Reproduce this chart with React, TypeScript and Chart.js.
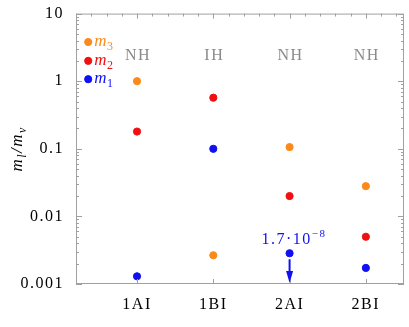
import React, { useEffect, useRef } from "react";
import { Chart, registerables } from "chart.js";

Chart.register(...registerables);

const categories = ["1AI", "1BI", "2AI", "2BI"];
const hierarchy = ["NH", "IH", "NH", "NH"];
const m1 = [0.0013, 0.1, 0.00285, 0.00173];
const m2 = [0.18, 0.57, 0.02, 0.005];
const m3 = [1.0, 0.00266, 0.106, 0.028];
const yTickValues = [0.001, 0.01, 0.1, 1, 10];
const yTickLabels = ["0.001", "0.01", "0.1", "1", "10"];
const legendNames = ["3", "2", "1"];
const legendValues = [3.8, 2.0, 1.07];
const legendX = -0.64;
const annotationCategory = 2;
const annotationBase = "1.7\u00b710";
const annotationExp = "\u22128";

const ORANGE = "#fb8a1a";
const RED = "#f01010";
const BLUE = "#1010f0";
const legendColors = [ORANGE, RED, BLUE];
const FRAME = "#a0a0a0";
const SERIF = "'Liberation Serif', 'Times New Roman', serif";

const decorPlugin = {
  id: "decor",
  beforeDraw(chart: any) {
    chart.ctx.letterSpacing = "1.5px";
  },
  afterDraw(chart: any) {
    const ctx = chart.ctx;
    const { left, right, top, bottom } = chart.chartArea;
    const xs = chart.scales.x;
    const ys = chart.scales.y;
    ctx.save();
    // frame
    ctx.strokeStyle = FRAME;
    ctx.lineWidth = 1;
    ctx.strokeRect(left + 0.5, top + 0.5, right - left - 1, bottom - top - 1);
    // y ticks (left and right, inside)
    ctx.beginPath();
    for (let e = -3; e <= 1; e++) {
      for (let k = 1; k <= 9; k++) {
        const v = k * Math.pow(10, e);
        if (v > 10.0001) continue;
        const py = Math.round(ys.getPixelForValue(v)) + 0.5;
        const len = k === 1 ? 6 : 3;
        ctx.moveTo(left, py);
        ctx.lineTo(left + len, py);
        ctx.moveTo(right, py);
        ctx.lineTo(right - len, py);
      }
    }
    // x ticks bottom
    for (let i = 0; i < categories.length; i++) {
      const px = Math.round(xs.getPixelForValue(i)) + 0.5;
      ctx.moveTo(px, bottom);
      ctx.lineTo(px, bottom - 5);
    }
    // x ticks top
    for (let t = -0.8; t <= 3.5; t += 0.2) {
      const px = Math.round(xs.getPixelForValue(t)) + 0.5;
      const major = Math.abs(t - Math.round(t)) < 0.01;
      ctx.moveTo(px, top);
      ctx.lineTo(px, top + (major ? 5 : 3));
    }
    ctx.stroke();

    // hierarchy labels
    ctx.fillStyle = "#8a8a8a";
    ctx.font = `16px ${SERIF}`;
    ctx.textAlign = "center";
    ctx.textBaseline = "middle";
    hierarchy.forEach((h, i) => {
      ctx.fillText(h, xs.getPixelForValue(i) + 1, top + 42);
    });

    // legend text
    ctx.textAlign = "left";
    ctx.textBaseline = "alphabetic";
    legendNames.forEach((n, i) => {
      const px = xs.getPixelForValue(legendX) + 6;
      const py = ys.getPixelForValue(legendValues[i]) + 4;
      ctx.fillStyle = legendColors[i];
      ctx.font = `italic 17px ${SERIF}`;
      ctx.fillText("m", px, py);
      const w = ctx.measureText("m").width;
      ctx.font = `12px ${SERIF}`;
      ctx.fillText(n, px + w - 1, py + 4);
    });

    // annotation
    const ax = xs.getPixelForValue(annotationCategory);
    const ay = ys.getPixelForValue(m1[annotationCategory]);
    ctx.fillStyle = BLUE;
    ctx.font = `16px ${SERIF}`;
    const wb = ctx.measureText(annotationBase).width;
    const startX = ax - wb / 2 - 3;
    ctx.fillText(annotationBase, startX, ay - 9);
    ctx.font = `11px ${SERIF}`;
    ctx.fillText(annotationExp, startX + wb, ay - 16);

    // arrow
    ctx.strokeStyle = BLUE;
    ctx.lineWidth = 2;
    ctx.beginPath();
    ctx.moveTo(ax, ay + 6);
    ctx.lineTo(ax, bottom - 10);
    ctx.stroke();
    ctx.beginPath();
    ctx.moveTo(ax - 3.5, bottom - 13);
    ctx.lineTo(ax + 3.5, bottom - 13);
    ctx.lineTo(ax, bottom - 1);
    ctx.closePath();
    ctx.fill();

    // y-axis title
    ctx.save();
    ctx.translate(17, (top + bottom) / 2);
    ctx.rotate(-Math.PI / 2);
    ctx.fillStyle = "#000";
    const parts: [string, string, number][] = [
      ["m", `italic 17px ${SERIF}`, 0],
      ["l", `italic 12px ${SERIF}`, 4],
      ["/", `italic 17px ${SERIF}`, 0],
      ["m", `italic 17px ${SERIF}`, 0],
      ["\u03bd", `italic 12px ${SERIF}`, 4],
    ];
    let total = 0;
    parts.forEach(([s, f]) => {
      ctx.font = f;
      total += ctx.measureText(s).width;
    });
    let cx = -total / 2;
    parts.forEach(([s, f, dy]) => {
      ctx.font = f;
      ctx.fillText(s, cx, 5 + dy);
      cx += ctx.measureText(s).width;
    });
    ctx.restore();
    ctx.restore();
  },
};

export default function App() {
  const ref = useRef<HTMLCanvasElement>(null);
  useEffect(() => {
    if (!ref.current) return;
    const mk = (vals: number[], color: string) => ({
      data: vals.map((v, i) => ({ x: i, y: v })),
      backgroundColor: color,
      borderColor: color,
      pointRadius: 3.6,
      showLine: false,
    });
    const chart = new Chart(ref.current, {
      type: "scatter",
      data: {
        datasets: [
          mk(m3, ORANGE),
          mk(m2, RED),
          mk(m1, BLUE),
          {
            data: legendValues.map((v) => ({ x: legendX, y: v })),
            backgroundColor: legendColors,
            borderColor: legendColors,
            pointRadius: 3.6,
            showLine: false,
          },
        ],
      },
      options: {
        animation: false,
        responsive: false,
        events: [],
        layout: { padding: { left: 0, top: 9, right: 3, bottom: 0 } },
        plugins: { legend: { display: false }, tooltip: { enabled: false } },
        scales: {
          x: {
            type: "linear",
            min: -0.8,
            max: 3.5,
            grid: { display: false },
            border: { display: false },
            afterBuildTicks: (s: any) => {
              s.ticks = categories.map((_, i) => ({ value: i }));
            },
            afterFit: (s: any) => {
              s.height = 43;
            },
            ticks: {
              autoSkip: false,
              maxRotation: 0,
              padding: 3,
              color: "#000",
              font: { family: SERIF, size: 16 },
              callback: (v: any) => categories[v] ?? "",
            },
          },
          y: {
            type: "logarithmic",
            min: 0.001,
            max: 10,
            grid: { display: false },
            border: { display: false },
            afterBuildTicks: (s: any) => {
              s.ticks = yTickValues.map((v) => ({ value: v }));
            },
            afterFit: (s: any) => {
              s.width = 76;
            },
            ticks: {
              autoSkip: false,
              padding: 4,
              color: "#000",
              font: { family: SERIF, size: 16 },
              callback: (v: any) => {
                const i = yTickValues.findIndex((t) => Math.abs(t - v) / t < 1e-6);
                return i >= 0 ? yTickLabels[i] : "";
              },
            },
          },
        },
      },
      plugins: [decorPlugin],
    } as any);
    return () => chart.destroy();
  }, []);
  return (
    <div style={{ position: "absolute", left: 0, top: 0, width: 409, height: 327, background: "#fff" }}>
      <canvas ref={ref} width={409} height={327} style={{ width: 409, height: 327 }} />
    </div>
  );
}
